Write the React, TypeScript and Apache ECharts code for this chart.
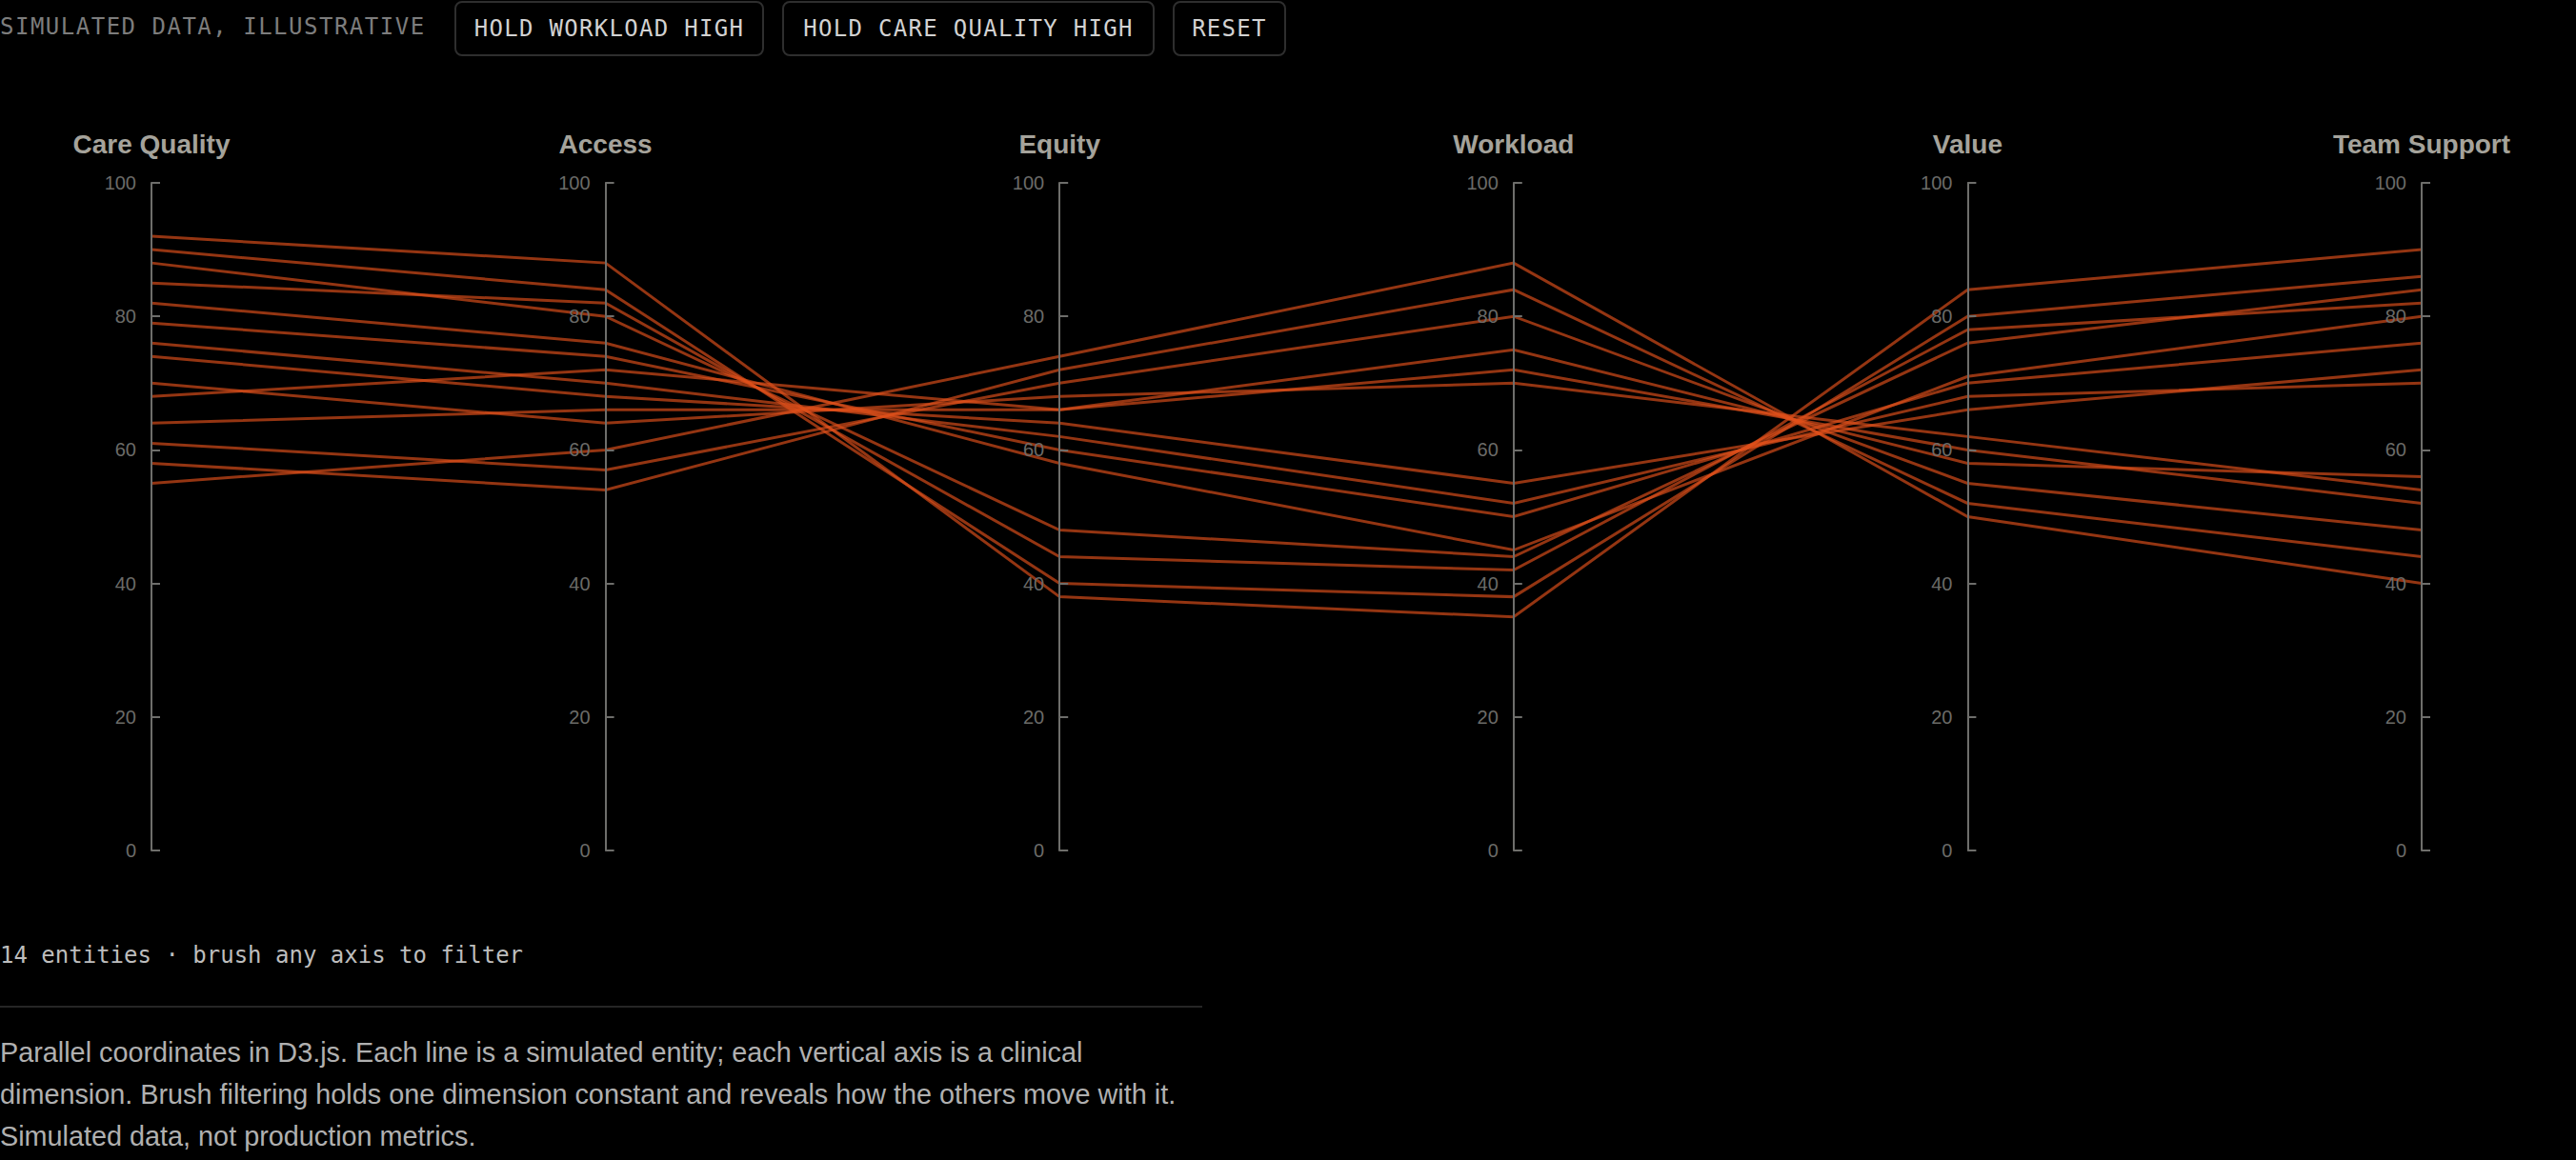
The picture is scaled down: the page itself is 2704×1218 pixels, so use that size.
import React, { useEffect, useRef } from "react";
import * as echarts from "echarts";

const dimensions = ["Care Quality", "Access", "Equity", "Workload", "Value", "Team Support"];
const careQuality = [92, 90, 88, 85, 82, 79, 76, 74, 70, 68, 64, 61, 58, 55];
const access = [88, 84, 80, 82, 76, 74, 70, 68, 64, 72, 66, 57, 54, 60];
const equity = [38, 40, 48, 44, 58, 60, 62, 64, 68, 66, 66, 70, 72, 74];
const workload = [35, 38, 44, 42, 45, 50, 52, 55, 70, 72, 75, 80, 84, 88];
const valueScore = [84, 80, 76, 78, 71, 70, 68, 66, 62, 60, 58, 55, 52, 50];
const teamSupport = [90, 86, 84, 82, 80, 76, 70, 72, 54, 52, 56, 48, 44, 40];
const axisMin = 0;
const axisMax = 100;
const axisStep = 20;

const buttons = ["HOLD WORKLOAD HIGH", "HOLD CARE QUALITY HIGH", "RESET"];
const statusText = "14 entities · brush any axis to filter";
const paragraphLines = [
  "Parallel coordinates in D3.js. Each line is a simulated entity; each vertical axis is a clinical",
  "dimension. Brush filtering holds one dimension constant and reveals how the others move with it.",
  "Simulated data, not production metrics.",
];

const mono = "'DejaVu Sans Mono', 'Liberation Mono', monospace";
const sans = "'Liberation Sans', Arial, Helvetica, sans-serif";

export default function App() {
  const ref = useRef<HTMLDivElement>(null);

  useEffect(() => {
    document.body.style.margin = "0";
    document.body.style.background = "#000";
    const chart = echarts.init(ref.current as HTMLDivElement, null, { renderer: "svg" });
    const rows = careQuality.map((_, i) => [
      careQuality[i],
      access[i],
      equity[i],
      workload[i],
      valueScore[i],
      teamSupport[i],
    ]);
    chart.setOption({
      animation: false,
      backgroundColor: "#000",
      textStyle: { fontFamily: sans },
      parallel: {
        left: 159,
        right: 162,
        top: 192,
        bottom: 325,
        parallelAxisDefault: {
          type: "value",
          min: axisMin,
          max: axisMax,
          interval: axisStep,
          nameLocation: "end",
          nameGap: 27,
          nameTextStyle: {
            color: "#a5a39b",
            fontSize: 28,
            fontWeight: "bold",
            fontFamily: sans,
          },
          axisLine: { show: true, lineStyle: { color: "#6e6e6b", width: 2 } },
          axisTick: { show: true, inside: true, length: 9, lineStyle: { color: "#6e6e6b", width: 2 } },
          axisLabel: {
            show: true,
            margin: -16,
            align: "right",
            color: "#6b6b68",
            fontSize: 20,
            fontFamily: sans,
          },
          splitLine: { show: false },
        },
      },
      parallelAxis: dimensions.map((name, dim) => ({ dim, name })),
      series: [
        {
          type: "parallel",
          data: rows,
          smooth: false,
          silent: true,
          lineStyle: { color: "#e0501c", width: 3, opacity: 0.66 },
          emphasis: { disabled: true },
        },
      ],
    });
    return () => chart.dispose();
  }, []);

  const btnLefts = [477, 821, 1231];
  const btnWidths = [325, 391, 119];

  return (
    <div style={{ position: "relative", width: 2704, height: 1218, background: "#000", overflow: "hidden" }}>
      <div ref={ref} style={{ position: "absolute", left: 0, top: 0, width: 2704, height: 1218 }} />
      <div
        style={{
          position: "absolute",
          left: 0,
          top: 14,
          height: 28,
          lineHeight: "28px",
          fontFamily: mono,
          fontSize: 24,
          letterSpacing: "1.5px",
          color: "#7d7d7d",
          whiteSpace: "nowrap",
        }}
      >
        SIMULATED DATA, ILLUSTRATIVE
      </div>
      {buttons.map((b, i) => (
        <div
          key={b}
          style={{
            position: "absolute",
            left: btnLefts[i],
            top: 1,
            width: btnWidths[i],
            height: 58,
            boxSizing: "border-box",
            border: "2px solid #2e2e2e",
            borderRadius: 8,
            display: "flex",
            alignItems: "center",
            justifyContent: "center",
            fontFamily: mono,
            fontSize: 24,
            letterSpacing: "1.3px",
            color: "#d2d2d2",
            whiteSpace: "nowrap",
          }}
        >
          {b}
        </div>
      ))}
      <div
        style={{
          position: "absolute",
          left: 0,
          top: 989,
          height: 28,
          lineHeight: "28px",
          fontFamily: mono,
          fontSize: 24,
          color: "#bdbdbd",
          whiteSpace: "nowrap",
        }}
      >
        {statusText}
      </div>
      <div style={{ position: "absolute", left: 0, top: 1056, width: 1262, height: 2, background: "#262626" }} />
      {paragraphLines.map((line, i) => (
        <div
          key={i}
          style={{
            position: "absolute",
            left: 0,
            top: 1083 + i * 44,
            height: 44,
            lineHeight: "44px",
            fontFamily: sans,
            fontSize: 28.8,
            color: "#b0b0b0",
            whiteSpace: "nowrap",
          }}
        >
          {line}
        </div>
      ))}
    </div>
  );
}
